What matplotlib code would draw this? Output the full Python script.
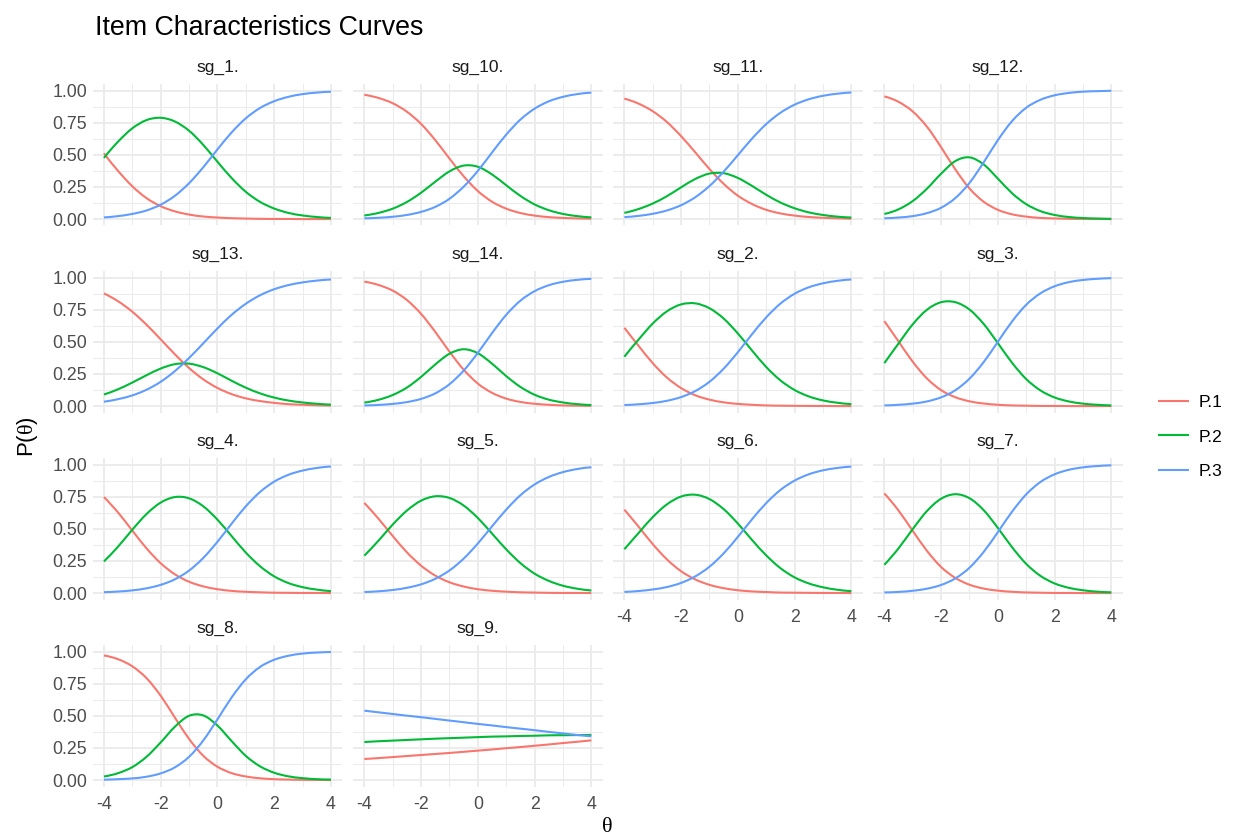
import matplotlib
matplotlib.use("Agg")
import matplotlib.pyplot as plt
from matplotlib.lines import Line2D
from matplotlib.path import Path
from matplotlib.patches import PathPatch

plt.rcParams['font.family'] = ['Liberation Sans', 'DejaVu Sans']
plt.rcParams['mathtext.fontset'] = 'custom'
plt.rcParams['mathtext.rm'] = 'Liberation Serif'
plt.rcParams['mathtext.sf'] = 'Liberation Sans'

# ---------------- data ----------------
theta = [-4.0, -3.5, -3.0, -2.5, -2.0, -1.5, -1.0, -0.5, 0.0,
         0.5, 1.0, 1.5, 2.0, 2.5, 3.0, 3.5, 4.0]

item_names = ["sg_1.", "sg_10.", "sg_11.", "sg_12.", "sg_13.", "sg_14.", "sg_2.",
              "sg_3.", "sg_4.", "sg_5.", "sg_6.", "sg_7.", "sg_8.", "sg_9."]
series_names = ["P.1", "P.2", "P.3"]

sg1_P1 = [0.511, 0.374, 0.255, 0.163, 0.100, 0.060, 0.035, 0.020, 0.012, 0.007, 0.004, 0.002, 0.001, 0.001, 0.000, 0.000, 0.000]
sg1_P2 = [0.476, 0.603, 0.706, 0.770, 0.788, 0.759, 0.687, 0.577, 0.446, 0.319, 0.212, 0.134, 0.082, 0.048, 0.028, 0.016, 0.009]
sg1_P3 = [0.013, 0.023, 0.040, 0.067, 0.112, 0.181, 0.279, 0.403, 0.542, 0.674, 0.784, 0.864, 0.917, 0.951, 0.972, 0.984, 0.991]

sg10_P1 = [0.967, 0.942, 0.901, 0.835, 0.740, 0.614, 0.471, 0.333, 0.218, 0.135, 0.081, 0.047, 0.027, 0.015, 0.009, 0.005, 0.003]
sg10_P2 = [0.028, 0.048, 0.081, 0.133, 0.205, 0.291, 0.371, 0.416, 0.407, 0.347, 0.263, 0.180, 0.114, 0.069, 0.040, 0.023, 0.013]
sg10_P3 = [0.006, 0.010, 0.018, 0.032, 0.056, 0.095, 0.158, 0.252, 0.375, 0.518, 0.657, 0.774, 0.859, 0.916, 0.951, 0.972, 0.984]

sg11_P1 = [0.937, 0.898, 0.839, 0.755, 0.645, 0.519, 0.389, 0.274, 0.182, 0.117, 0.072, 0.044, 0.027, 0.016, 0.010, 0.006, 0.003]
sg11_P2 = [0.048, 0.078, 0.121, 0.178, 0.247, 0.312, 0.354, 0.357, 0.320, 0.258, 0.189, 0.129, 0.084, 0.052, 0.032, 0.019, 0.012]
sg11_P3 = [0.015, 0.025, 0.041, 0.067, 0.108, 0.170, 0.257, 0.369, 0.497, 0.626, 0.739, 0.827, 0.890, 0.932, 0.959, 0.975, 0.985]

sg12_P1 = [0.954, 0.912, 0.837, 0.719, 0.559, 0.387, 0.238, 0.135, 0.072, 0.037, 0.019, 0.009, 0.005, 0.002, 0.001, 0.001, 0.000]
sg12_P2 = [0.040, 0.076, 0.140, 0.236, 0.353, 0.451, 0.480, 0.425, 0.315, 0.201, 0.116, 0.062, 0.032, 0.016, 0.008, 0.004, 0.002]
sg12_P3 = [0.006, 0.012, 0.023, 0.046, 0.088, 0.163, 0.281, 0.441, 0.614, 0.762, 0.866, 0.928, 0.963, 0.981, 0.991, 0.995, 0.998]

sg13_P1 = [0.876, 0.815, 0.734, 0.633, 0.519, 0.403, 0.296, 0.208, 0.141, 0.093, 0.060, 0.039, 0.025, 0.015, 0.010, 0.006, 0.004]
sg13_P2 = [0.090, 0.131, 0.183, 0.240, 0.292, 0.326, 0.330, 0.303, 0.255, 0.197, 0.143, 0.099, 0.066, 0.043, 0.028, 0.018, 0.011]
sg13_P3 = [0.034, 0.054, 0.083, 0.127, 0.189, 0.272, 0.374, 0.488, 0.604, 0.710, 0.796, 0.862, 0.909, 0.941, 0.962, 0.976, 0.985]

sg14_P1 = [0.968, 0.942, 0.898, 0.825, 0.717, 0.577, 0.423, 0.283, 0.175, 0.103, 0.058, 0.032, 0.018, 0.010, 0.005, 0.003, 0.002]
sg14_P2 = [0.027, 0.049, 0.086, 0.144, 0.227, 0.324, 0.407, 0.442, 0.411, 0.330, 0.233, 0.149, 0.088, 0.050, 0.028, 0.015, 0.008]
sg14_P3 = [0.005, 0.009, 0.017, 0.031, 0.056, 0.099, 0.170, 0.276, 0.414, 0.568, 0.710, 0.820, 0.894, 0.940, 0.967, 0.982, 0.990]

sg2_P1 = [0.609, 0.469, 0.334, 0.222, 0.140, 0.084, 0.050, 0.029, 0.017, 0.010, 0.005, 0.003, 0.002, 0.001, 0.001, 0.000, 0.000]
sg2_P2 = [0.384, 0.517, 0.642, 0.737, 0.791, 0.799, 0.761, 0.681, 0.565, 0.432, 0.304, 0.200, 0.125, 0.075, 0.044, 0.026, 0.015]
sg2_P3 = [0.008, 0.014, 0.024, 0.041, 0.070, 0.117, 0.189, 0.291, 0.419, 0.559, 0.690, 0.797, 0.874, 0.924, 0.955, 0.974, 0.985]

sg3_P1 = [0.661, 0.503, 0.345, 0.215, 0.124, 0.069, 0.037, 0.020, 0.010, 0.005, 0.003, 0.001, 0.001, 0.000, 0.000, 0.000, 0.000]
sg3_P2 = [0.334, 0.487, 0.636, 0.749, 0.808, 0.808, 0.751, 0.639, 0.490, 0.337, 0.210, 0.122, 0.067, 0.036, 0.019, 0.010, 0.005]
sg3_P3 = [0.005, 0.010, 0.019, 0.036, 0.068, 0.123, 0.213, 0.342, 0.500, 0.658, 0.788, 0.877, 0.932, 0.964, 0.981, 0.990, 0.995]

sg4_P1 = [0.747, 0.626, 0.486, 0.348, 0.232, 0.146, 0.088, 0.052, 0.030, 0.017, 0.010, 0.006, 0.003, 0.002, 0.001, 0.001, 0.000]
sg4_P2 = [0.246, 0.362, 0.493, 0.615, 0.704, 0.747, 0.737, 0.675, 0.571, 0.443, 0.315, 0.209, 0.130, 0.078, 0.046, 0.027, 0.015]
sg4_P3 = [0.007, 0.012, 0.021, 0.037, 0.064, 0.107, 0.175, 0.273, 0.399, 0.540, 0.675, 0.786, 0.867, 0.920, 0.953, 0.973, 0.985]

sg5_P1 = [0.701, 0.578, 0.444, 0.317, 0.213, 0.136, 0.084, 0.051, 0.030, 0.018, 0.011, 0.006, 0.004, 0.002, 0.001, 0.001, 0.000]
sg5_P2 = [0.291, 0.408, 0.533, 0.642, 0.719, 0.753, 0.740, 0.681, 0.584, 0.463, 0.340, 0.233, 0.151, 0.095, 0.057, 0.034, 0.020]
sg5_P3 = [0.008, 0.014, 0.024, 0.041, 0.068, 0.111, 0.176, 0.268, 0.386, 0.519, 0.649, 0.761, 0.845, 0.903, 0.941, 0.965, 0.979]

sg6_P1 = [0.649, 0.517, 0.381, 0.262, 0.170, 0.106, 0.064, 0.038, 0.022, 0.013, 0.008, 0.004, 0.003, 0.002, 0.001, 0.001, 0.000]
sg6_P2 = [0.341, 0.467, 0.591, 0.690, 0.751, 0.765, 0.731, 0.653, 0.541, 0.413, 0.293, 0.194, 0.122, 0.075, 0.045, 0.026, 0.015]
sg6_P3 = [0.009, 0.016, 0.028, 0.047, 0.079, 0.130, 0.205, 0.309, 0.437, 0.574, 0.700, 0.802, 0.875, 0.924, 0.955, 0.973, 0.984]

sg7_P1 = [0.775, 0.642, 0.484, 0.329, 0.203, 0.118, 0.065, 0.035, 0.019, 0.010, 0.005, 0.003, 0.001, 0.001, 0.000, 0.000, 0.000]
sg7_P2 = [0.220, 0.348, 0.498, 0.638, 0.734, 0.769, 0.738, 0.645, 0.507, 0.357, 0.227, 0.134, 0.075, 0.041, 0.022, 0.011, 0.006]
sg7_P3 = [0.005, 0.009, 0.018, 0.034, 0.063, 0.114, 0.197, 0.320, 0.474, 0.633, 0.768, 0.864, 0.924, 0.959, 0.978, 0.988, 0.994]

sg8_P1 = [0.969, 0.940, 0.885, 0.793, 0.656, 0.486, 0.320, 0.189, 0.104, 0.054, 0.028, 0.014, 0.007, 0.004, 0.002, 0.001, 0.000]
sg8_P2 = [0.028, 0.054, 0.101, 0.181, 0.293, 0.415, 0.500, 0.503, 0.424, 0.303, 0.188, 0.107, 0.057, 0.029, 0.015, 0.007, 0.004]
sg8_P3 = [0.003, 0.007, 0.013, 0.026, 0.052, 0.099, 0.181, 0.308, 0.472, 0.643, 0.784, 0.880, 0.936, 0.967, 0.984, 0.992, 0.996]

sg9_P1 = [0.164, 0.171, 0.179, 0.187, 0.195, 0.203, 0.211, 0.220, 0.229, 0.238, 0.248, 0.257, 0.267, 0.277, 0.288, 0.298, 0.309]
sg9_P2 = [0.296, 0.302, 0.307, 0.312, 0.317, 0.322, 0.326, 0.330, 0.334, 0.338, 0.340, 0.343, 0.345, 0.348, 0.349, 0.350, 0.351]
sg9_P3 = [0.540, 0.527, 0.514, 0.501, 0.489, 0.476, 0.463, 0.450, 0.437, 0.425, 0.412, 0.400, 0.388, 0.375, 0.363, 0.351, 0.340]

item_series = [
    (sg1_P1, sg1_P2, sg1_P3), (sg10_P1, sg10_P2, sg10_P3), (sg11_P1, sg11_P2, sg11_P3),
    (sg12_P1, sg12_P2, sg12_P3), (sg13_P1, sg13_P2, sg13_P3), (sg14_P1, sg14_P2, sg14_P3),
    (sg2_P1, sg2_P2, sg2_P3), (sg3_P1, sg3_P2, sg3_P3), (sg4_P1, sg4_P2, sg4_P3),
    (sg5_P1, sg5_P2, sg5_P3), (sg6_P1, sg6_P2, sg6_P3), (sg7_P1, sg7_P2, sg7_P3),
    (sg8_P1, sg8_P2, sg8_P3), (sg9_P1, sg9_P2, sg9_P3),
]

x_ticks = [-4, -2, 0, 2, 4]
x_tick_labels = ["-4", "-2", "0", "2", "4"]
y_ticks = [0.0, 0.25, 0.5, 0.75, 1.0]
y_tick_labels = ["0.00", "0.25", "0.50", "0.75", "1.00"]

# ---------------- style ----------------
colors = ["#F8766D", "#00BA38", "#619CFF"]
grid_major = "#EBEBEB"
tick_col = "#4D4D4D"
strip_col = "#1A1A1A"


def smooth_line_path(xs, ys):
    """Smooth (cubic Hermite) path passing exactly through every data point."""
    n = len(xs)
    slopes = []
    for i in range(n):
        if i == 0:
            h = xs[1] - xs[0]
            m = (-3 * ys[0] + 4 * ys[1] - ys[2]) / (2 * h)
        elif i == n - 1:
            h = xs[-1] - xs[-2]
            m = (3 * ys[-1] - 4 * ys[-2] + ys[-3]) / (2 * h)
        else:
            m = (ys[i + 1] - ys[i - 1]) / (xs[i + 1] - xs[i - 1])
        slopes.append(m)
    verts = [(xs[0], ys[0])]
    codes = [Path.MOVETO]
    for i in range(n - 1):
        h = xs[i + 1] - xs[i]
        verts.append((xs[i] + h / 3, ys[i] + slopes[i] * h / 3))
        verts.append((xs[i + 1] - h / 3, ys[i + 1] - slopes[i + 1] * h / 3))
        verts.append((xs[i + 1], ys[i + 1]))
        codes += [Path.CURVE4] * 3
    return Path(verts, codes)


W, H = 1234, 835
fig = plt.figure(figsize=(W / 100, H / 100), dpi=100)
fig.patch.set_facecolor("white")

col_left = [92.6, 353.0, 613.0, 873.0]
row_top = [84.1, 271.1, 458.1, 645.1]
pw, ph = 249.7, 141.4
ncol = 4
n_items = len(item_names)

for i, name in enumerate(item_names):
    r, c = divmod(i, ncol)
    ax = fig.add_axes([col_left[c] / W, 1 - (row_top[r] + ph) / H, pw / W, ph / H])
    ax.set_xlim(-4.4, 4.4)
    ax.set_ylim(-0.05, 1.05)
    for s in ax.spines.values():
        s.set_visible(False)
    ax.set_xticks(x_ticks)
    ax.set_yticks(y_ticks)
    ax.set_xticks([-3, -1, 1, 3], minor=True)
    ax.set_yticks([0.125, 0.375, 0.625, 0.875], minor=True)
    ax.grid(True, which="major", color=grid_major, linewidth=1.3)
    ax.grid(True, which="minor", color=grid_major, linewidth=0.7)
    ax.set_axisbelow(True)
    ax.tick_params(which="both", length=0)
    ax.tick_params(axis="y", which="major", pad=4, labelsize=12.8, labelcolor=tick_col)
    ax.tick_params(axis="x", which="major", pad=7, labelsize=12.8, labelcolor=tick_col)

    if c == 0:
        ax.set_yticklabels(y_tick_labels)
    else:
        ax.set_yticklabels([])
    if i + ncol >= n_items:
        ax.set_xticklabels(x_tick_labels)
    else:
        ax.set_xticklabels([])

    for k, ys in enumerate(item_series[i]):
        patch = PathPatch(smooth_line_path(theta, ys), facecolor="none",
                          edgecolor=colors[k], linewidth=1.5, capstyle="butt",
                          joinstyle="round", transform=ax.transData)
        ax.add_patch(patch)
    ax.set_title(name, fontsize=12.5, color=strip_col, pad=9)

fig.text(95 / W, 1 - 35 / H, "Item Characteristics Curves", fontsize=19.3,
         color="black", ha="left", va="baseline")
fig.text(27 / W, 1 - 437 / H, r"$\mathsf{P(}\mathrm{\theta}\mathsf{)}$", fontsize=16,
         rotation=90, ha="center", va="center", color="black")
fig.text(607 / W, 1 - 827 / H, "θ", fontsize=16, family="Liberation Serif",
         ha="center", va="center", color="black")

handles = [Line2D([0], [0], color=col, linewidth=1.5) for col in colors]
fig.legend(handles, series_names, loc="center left", bbox_to_anchor=(1152 / W, 1 - 437 / H),
           frameon=False, fontsize=12.5, handlelength=1.7, labelspacing=1.12,
           handletextpad=0.6, borderaxespad=0)

fig.savefig("out.png", dpi=100, facecolor="white")
